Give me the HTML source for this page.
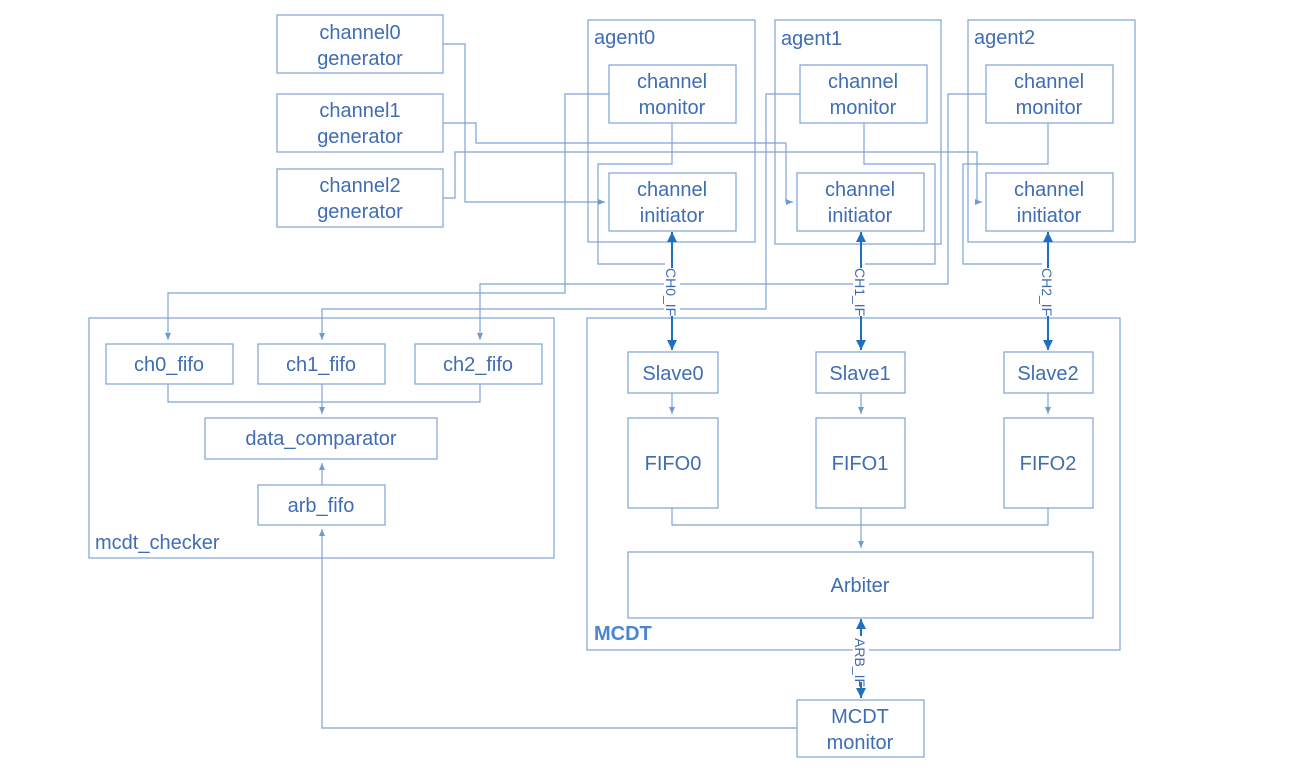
<!DOCTYPE html>
<html><head><meta charset="utf-8"><style>
html,body{margin:0;padding:0;background:#fff;}
svg{display:block;}
text{font-family:"Liberation Sans",sans-serif;fill:#3f6db3;}
</style></head><body>
<svg width="1314" height="777" viewBox="0 0 1314 777" xmlns="http://www.w3.org/2000/svg">
<defs>
<marker id="a" markerWidth="8" markerHeight="8" refX="7" refY="4" orient="auto" markerUnits="userSpaceOnUse"><path d="M0,1 L7,4 L0,7 z" fill="#6f9bd3"/></marker>
<marker id="b" markerWidth="12" markerHeight="12" refX="10" refY="5" orient="auto" markerUnits="userSpaceOnUse"><path d="M0,0 L10,5 L0,10 z" fill="#1f6fc0"/></marker>
</defs>
<g fill="none" stroke="#7da3d6" stroke-width="1.2">
<rect x="277" y="15" width="166" height="58"/>
<rect x="277" y="94" width="166" height="58"/>
<rect x="277" y="169" width="166" height="58"/>
<rect x="588" y="20" width="167" height="222"/>
<rect x="775" y="20" width="166" height="224"/>
<rect x="968" y="20" width="167" height="222"/>
<rect x="609" y="65" width="127" height="58"/>
<rect x="609" y="173" width="127" height="58"/>
<rect x="800" y="65" width="127" height="58"/>
<rect x="797" y="173" width="127" height="58"/>
<rect x="986" y="65" width="127" height="58"/>
<rect x="986" y="173" width="127" height="58"/>
<polyline points="672,123 672,164 598,164 598,264 665,264"/>
<polyline points="864,123 864,164 935,164 935,264 865,264"/>
<polyline points="1048,123 1048,164 963,164 963,264 1042,264"/>
<polyline points="443,44 465,44 465,202 605,202" marker-end="url(#a)"/>
<polyline points="443,123 476,123 476,143 786,143 786,202 793,202" marker-end="url(#a)"/>
<polyline points="443,198 455,198 455,152 977,152 977,202 982,202" marker-end="url(#a)"/>
<polyline points="609,94 565,94 565,293 168,293 168,340" marker-end="url(#a)"/>
<polyline points="800,94 766,94 766,309 322,309 322,340" marker-end="url(#a)"/>
<polyline points="986,94 948,94 948,284 480,284 480,340" marker-end="url(#a)"/>
<rect x="89" y="318" width="465" height="240"/>
<rect x="106" y="344" width="127" height="40"/>
<rect x="258" y="344" width="127" height="40"/>
<rect x="415" y="344" width="127" height="40"/>
<rect x="205" y="418" width="232" height="41"/>
<rect x="258" y="485" width="127" height="40"/>
<polyline points="168,384 168,402 480,402 480,384"/>
<line x1="322" y1="384" x2="322" y2="414" marker-end="url(#a)"/>
<line x1="322" y1="485" x2="322" y2="463" marker-end="url(#a)"/>
<rect x="587" y="318" width="533" height="332"/>
<rect x="628" y="352" width="90" height="41"/>
<rect x="816" y="352" width="89" height="41"/>
<rect x="1004" y="352" width="89" height="41"/>
<rect x="628" y="418" width="90" height="90"/>
<rect x="816" y="418" width="89" height="90"/>
<rect x="1004" y="418" width="89" height="90"/>
<rect x="628" y="552" width="465" height="66"/>
<line x1="672" y1="393" x2="672" y2="414" marker-end="url(#a)"/>
<line x1="861" y1="393" x2="861" y2="414" marker-end="url(#a)"/>
<line x1="1048" y1="393" x2="1048" y2="414" marker-end="url(#a)"/>
<polyline points="672,508 672,525 1048,525 1048,508"/>
<line x1="861" y1="508" x2="861" y2="548" marker-end="url(#a)"/>
<rect x="797" y="700" width="127" height="57"/>
<polyline points="797,728 322,728 322,529" marker-end="url(#a)"/>
</g>
<g stroke="#1f6fc0" stroke-width="2" fill="none">
<line x1="672" y1="236" x2="672" y2="350" marker-end="url(#b)"/>
<line x1="672" y1="346" x2="672" y2="232" marker-end="url(#b)"/>
<line x1="861" y1="236" x2="861" y2="350" marker-end="url(#b)"/>
<line x1="861" y1="346" x2="861" y2="232" marker-end="url(#b)"/>
<line x1="1048" y1="236" x2="1048" y2="350" marker-end="url(#b)"/>
<line x1="1048" y1="346" x2="1048" y2="232" marker-end="url(#b)"/>
<line x1="861" y1="622" x2="861" y2="698" marker-end="url(#b)"/>
<line x1="861" y1="694" x2="861" y2="619" marker-end="url(#b)"/>
</g>
<g fill="#fff">
<rect x="664" y="268" width="16" height="48"/>
<rect x="853" y="268" width="16" height="48"/>
<rect x="1040" y="268" width="16" height="48"/>
<rect x="853" y="636" width="16" height="46"/>
</g>
<g font-size="14">
<text transform="translate(666,268) rotate(90)">CH0_IF</text>
<text transform="translate(855,268) rotate(90)">CH1_IF</text>
<text transform="translate(1042,268) rotate(90)">CH2_IF</text>
<text transform="translate(855,638) rotate(90)">ARB_IF</text>
</g>
<g font-size="20" text-anchor="middle">
<text x="360" y="39">channel0</text><text x="360" y="65">generator</text>
<text x="360" y="117">channel1</text><text x="360" y="143">generator</text>
<text x="360" y="192">channel2</text><text x="360" y="218">generator</text>
<text x="672" y="88">channel</text><text x="672" y="114">monitor</text>
<text x="672" y="196">channel</text><text x="672" y="222">initiator</text>
<text x="863" y="88">channel</text><text x="863" y="114">monitor</text>
<text x="860" y="196">channel</text><text x="860" y="222">initiator</text>
<text x="1049" y="88">channel</text><text x="1049" y="114">monitor</text>
<text x="1049" y="196">channel</text><text x="1049" y="222">initiator</text>
<text x="169" y="371">ch0_fifo</text>
<text x="321" y="371">ch1_fifo</text>
<text x="478" y="371">ch2_fifo</text>
<text x="321" y="445">data_comparator</text>
<text x="321" y="512">arb_fifo</text>
<text x="673" y="380">Slave0</text>
<text x="860" y="380">Slave1</text>
<text x="1048" y="380">Slave2</text>
<text x="673" y="470">FIFO0</text>
<text x="860" y="470">FIFO1</text>
<text x="1048" y="470">FIFO2</text>
<text x="860" y="592">Arbiter</text>
<text x="860" y="723">MCDT</text><text x="860" y="749">monitor</text>
</g>
<g font-size="20">
<text x="594" y="44">agent0</text>
<text x="781" y="45">agent1</text>
<text x="974" y="44">agent2</text>
<text x="95" y="549">mcdt_checker</text>
<text x="594" y="640" font-weight="bold" style="fill:#4a86cf">MCDT</text>
</g>
</svg>
</body></html>
